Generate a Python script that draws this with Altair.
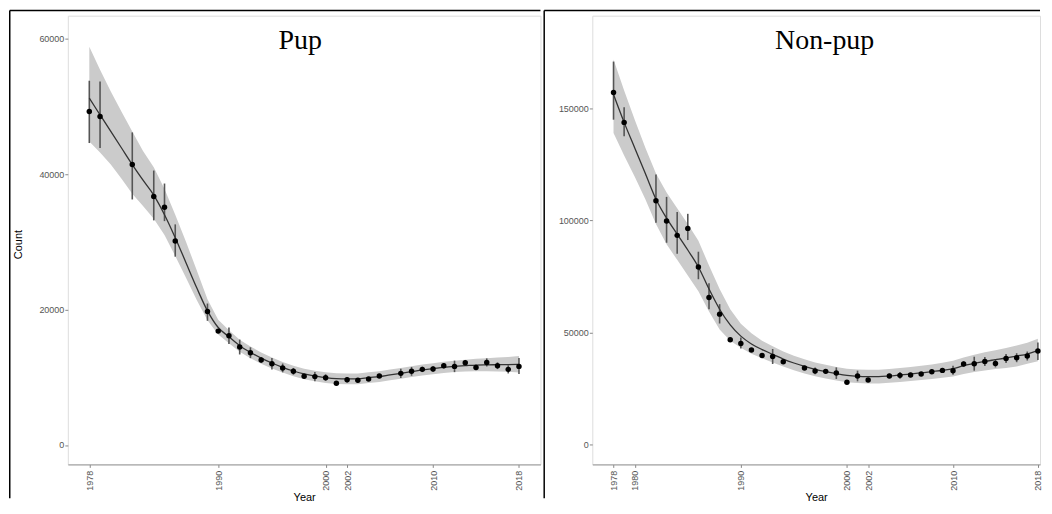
import altair as alt
import pandas as pd

# ---------------- Pup ----------------
pup_title = "Pup"
pup_years = [1978, 1979, 1982, 1984, 1985, 1986, 1989, 1990, 1991, 1992, 1993, 1994,
             1995, 1996, 1997, 1998, 1999, 2000, 2001, 2002, 2003, 2004, 2005, 2007,
             2008, 2009, 2010, 2011, 2012, 2013, 2014, 2015, 2016, 2017, 2018]
pup_count = [49250, 48510, 41400, 36690, 35110, 30110, 19700, 16810, 16120, 14460, 13620, 12540,
             12000, 11370, 10870, 10130, 10090, 9940, 9100, 9640, 9540, 9750, 10190, 10570,
             10870, 11160, 11220, 11700, 11600, 12150, 11450, 12190, 11700, 11160, 11600]
pup_lo = [44580, 43850, 36250, 33160, 33050, 27800, 18330, 16510, 14900, 13360, 12820, 12140,
          11150, 10720, 10370, 9830, 9390, 9440, 8800, 9240, 9240, 9450, 9890, 9870,
          10220, 10760, 10820, 11300, 10750, 11750, 11050, 11590, 11200, 10560, 10480]
pup_hi = [53780, 53670, 46150, 40520, 38600, 32570, 20880, 17110, 17340, 15560, 14420, 12940,
          12850, 12020, 11370, 10430, 10790, 10440, 9400, 10040, 9840, 10050, 10490, 11270,
          11520, 11560, 11620, 12100, 12450, 12550, 11850, 12790, 12200, 11760, 12840]

fit_years = list(range(1978, 2019))
pup_fit = [51200, 48750, 46300, 43850, 41400, 39100, 36900, 34000, 30600, 26900, 23200, 19800,
           17340, 15970, 14650, 13670, 12830, 12100, 11460, 10920, 10480, 10190, 9940, 9790,
           9750, 9750, 9940, 10090, 10340, 10570, 10820, 11070, 11260, 11460, 11600, 11700,
           11800, 11830, 11850, 11870, 11900]
pup_lower = [44800, 43200, 41400, 39300, 37100, 35300, 33400, 31000, 27900, 24700, 21400, 18400,
             16300, 15000, 13750, 12800, 12000, 11300, 10700, 10150, 9700, 9400, 9150, 9000,
             8950, 8950, 9150, 9300, 9550, 9780, 10020, 10250, 10450, 10630, 10760, 10840,
             10900, 10880, 10850, 10800, 10700]
pup_upper = [58800, 55400, 52200, 49200, 46300, 43400, 41000, 37800, 34000, 30000, 25800, 21500,
             18500, 16950, 15550, 14550, 13650, 12900, 12250, 11700, 11250, 10950, 10730, 10600,
             10550, 10550, 10730, 10900, 11150, 11380, 11620, 11880, 12080, 12300, 12450, 12580,
             12720, 12800, 12900, 13000, 13150]
pup_xticks = [1978, 1990, 2000, 2002, 2010, 2018]
pup_yticks = [0, 20000, 40000, 60000]

# ---------------- Non-pup ----------------
np_title = "Non-pup"
np_years = [1978, 1979, 1982, 1983, 1984, 1985, 1986, 1987, 1988, 1989, 1990, 1991, 1992,
            1993, 1994, 1996, 1997, 1998, 1999, 2000, 2001, 2002, 2004, 2005, 2006, 2007,
            2008, 2009, 2010, 2011, 2012, 2013, 2014, 2015, 2016, 2017, 2018]
np_count = [157110, 143780, 108890, 99780, 93420, 96530, 79330, 65690, 58310, 46890, 45240, 42310, 39910,
            39470, 37110, 34310, 32980, 32800, 32090, 27910, 30760, 28980, 30760, 31020, 31200, 31640,
            32670, 33240, 33110, 36090, 36220, 37240, 36360, 38580, 38890, 39640, 41870]
np_lo = [144980, 137560, 99020, 90130, 85240, 91330, 73870, 60530, 54130, 46090, 43020, 41510, 39110,
         36090, 36310, 33510, 31480, 31800, 29420, 27210, 28360, 28180, 29760, 29520, 30200, 30840,
         31670, 32240, 31330, 34890, 33110, 35240, 34560, 36580, 36890, 37640, 37870]
np_hi = [170890, 150580, 120530, 110580, 103780, 103020, 86130, 72090, 62760, 47690, 47910, 43110, 40710,
         42760, 37910, 35110, 34480, 33800, 34580, 28610, 33110, 29780, 31760, 32520, 32200, 32440,
         33670, 34240, 35330, 37290, 39330, 39240, 38160, 40580, 40890, 41640, 45690]
np_fit = [156220, 143780, 132360, 120980, 109560, 101110, 94000, 86890, 79330, 69500, 60500, 53500,
          48500, 45000, 42500, 40400, 38300, 36530, 35020, 33690, 32670, 31780, 31020, 30580,
          30440, 30440, 30760, 31200, 31640, 32090, 32670, 33240, 34000, 35330, 36360, 37240,
          38000, 38760, 39640, 40530, 42000]
np_lower = [139000, 129000, 119500, 109500, 98500, 89500, 82500, 75500, 68500, 59500, 51500, 46500,
            43300, 40600, 38600, 36800, 35000, 33300, 31900, 30600, 29600, 28700, 28000, 27600,
            27400, 27400, 27700, 28100, 28500, 28900, 29400, 29900, 30500, 31600, 32500, 33200,
            33800, 34300, 35000, 36200, 37300]
np_upper = [171800, 158000, 145000, 132500, 121000, 112500, 105500, 98500, 91000, 80000, 69500, 60500,
            54000, 49800, 46500, 44000, 41600, 39800, 38200, 36800, 35700, 34800, 34000, 33600,
            33500, 33500, 33800, 34300, 34800, 35300, 35900, 36600, 37500, 39000, 40200, 41300,
            42200, 43200, 44300, 45500, 47300]
np_xticks = [1978, 1980, 1990, 2000, 2002, 2010, 2018]
np_yticks = [0, 50000, 100000, 150000]

AXIS_FONT = "Liberation Sans"
LABEL_COLOR = "#555555"


def panel(title, years, count, lo, hi, fit, lower, upper, xticks, yticks,
          xdom, ydom, width, height, ytitle, left_edge):
    pts = pd.DataFrame({"year": years, "count": count, "lo": lo, "hi": hi})
    fitdf = pd.DataFrame({"year": fit_years, "fit": fit, "lower": lower, "upper": upper})

    xaxis = alt.Axis(values=xticks, format="d", labelAngle=270, labelFont=AXIS_FONT,
                     labelFontSize=9, labelColor=LABEL_COLOR, labelPadding=3,
                     labelOverlap=False, labelFlush=False,
                     tickSize=3, tickColor="#888888", domainColor="#999999",
                     grid=False, titleFont=AXIS_FONT, titleFontSize=11,
                     titleFontWeight="normal", titleColor="black", titleY=27)
    xenc = alt.X("year:Q", scale=alt.Scale(domain=xdom, nice=False, zero=False),
                 axis=xaxis, title="Year")

    yaxis_kw = dict(values=yticks, format="d", labelFont=AXIS_FONT, labelFontSize=9,
                    labelColor=LABEL_COLOR, labelPadding=1, tickSize=3,
                    tickColor="#888888", domain=False, grid=False)
    if ytitle:
        yaxis_kw.update(titleFont=AXIS_FONT, titleFontSize=11, titleFontWeight="normal",
                        titleColor="black", titleX=-44, titleY=229)
    yaxis = alt.Axis(**yaxis_kw)
    yscale = alt.Scale(domain=ydom, nice=False, zero=False)
    ytit = ytitle if ytitle else None

    band = alt.Chart(fitdf).mark_area(color="#cbcbcb", opacity=1).encode(
        x=xenc,
        y=alt.Y("lower:Q", scale=yscale, axis=yaxis, title=ytit),
        y2="upper:Q",
    )
    line = alt.Chart(fitdf).mark_line(color="#333333", strokeWidth=1.3, interpolate="monotone").encode(
        x=xenc, y=alt.Y("fit:Q", scale=yscale, axis=yaxis, title=ytit))
    bars = alt.Chart(pts).mark_rule(color="#555555", strokeWidth=1.6).encode(
        x=xenc, y=alt.Y("lo:Q", scale=yscale, axis=yaxis, title=ytit), y2="hi:Q")
    dots = alt.Chart(pts).mark_circle(color="black", size=30, opacity=1).encode(
        x=xenc, y=alt.Y("count:Q", scale=yscale, axis=yaxis, title=ytit))
    ttl = alt.Chart(pd.DataFrame({"t": [title]})).mark_text(
        font="Liberation Serif", fontSize=28, align="center", baseline="alphabetic",
        color="black").encode(text="t:N", x=alt.value(233), y=alt.value(33))

    one = pd.DataFrame({"a": [0]})
    vborder = alt.Chart(one).mark_rule(color="black", strokeWidth=1.5).encode(
        x=alt.value(left_edge), y=alt.value(-5.25), y2=alt.value(484))
    hborder = alt.Chart(one).mark_rule(color="black", strokeWidth=1.5).encode(
        x=alt.value(left_edge), x2=alt.value(width), y=alt.value(-5.25))

    return alt.layer(band, bars, line, dots, ttl, vborder, hborder).properties(
        width=width, height=height)


left = panel(pup_title, pup_years, pup_count, pup_lo, pup_hi, pup_fit, pup_lower, pup_upper,
             pup_xticks, pup_yticks, [1976, 2020], [-2871, 63383], 474, 450, "Count", -58.25)
right = panel(np_title, np_years, np_count, np_lo, np_hi, np_fit, np_lower, np_upper,
              np_xticks, np_yticks, [1976, 2018.2], [-8667, 191333], 449, 450, "", -48.25)

chart = alt.hconcat(left, right, spacing=0).properties(padding=0).configure_view(
    stroke=None).configure(background="white")

chart.save("out.html", embed_options={"renderer": "svg", "actions": False})
